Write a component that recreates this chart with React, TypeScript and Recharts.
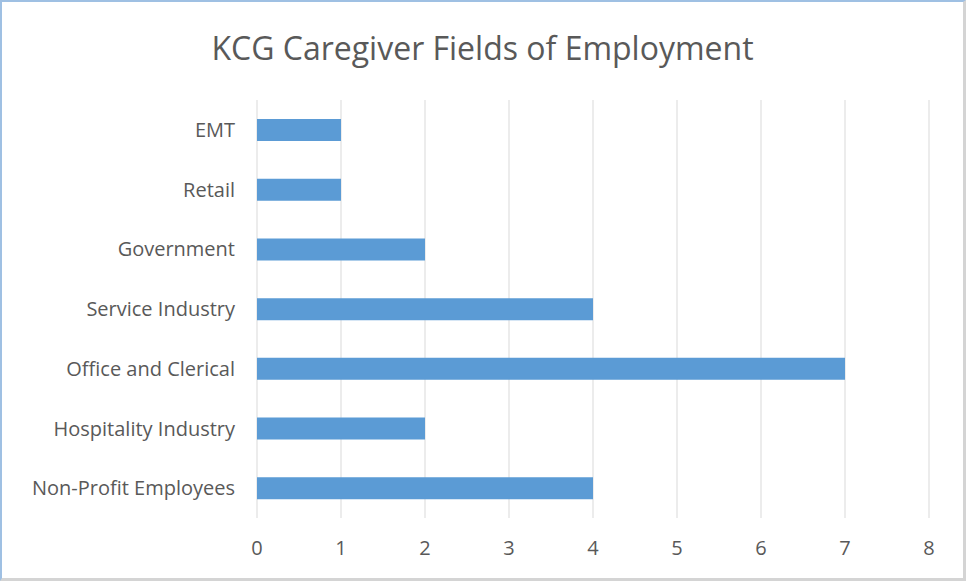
import { BarChart, Bar, XAxis, YAxis, CartesianGrid } from 'recharts';

const categories = [
  'EMT',
  'Retail',
  'Government',
  'Service Industry',
  'Office and Clerical',
  'Hospitality Industry',
  'Non-Profit Employees'
];
const employees = [1, 1, 2, 4, 7, 2, 4];
const xTicks = [0, 1, 2, 3, 4, 5, 6, 7, 8];

const data = categories.map((name, i) => ({ name, value: employees[i] }));

const FONT = '"Open Sans", "Noto Sans", sans-serif';
const TEXT_COLOR = '#595959';

export default function App() {
  return (
    <div
      style={{
        position: 'fixed',
        top: 0,
        left: 0,
        width: 966,
        height: 581,
        boxSizing: 'border-box',
        background: '#fff',
        borderTop: '2px solid #9fc0e3',
        borderLeft: '2px solid #9fc0e3',
        borderRight: '3px solid #d4d4d4',
        borderBottom: '3px solid #d4d4d4',
        fontFamily: FONT
      }}
    >
      {/* Title */}
      <div
        style={{
          position: 'absolute',
          top: 26,
          left: 0,
          width: 961,
          textAlign: 'center',
          fontSize: 32,
          color: TEXT_COLOR,
          lineHeight: '40px'
        }}
      >
        KCG Caregiver Fields of Employment
      </div>

      <div style={{ position: 'absolute', top: -2, left: -2 }}>
        <BarChart
          width={966}
          height={581}
          data={data}
          layout="vertical"
          margin={{ top: 100, right: 37, bottom: 23, left: 17 }}
          barCategoryGap={0}
        >
          <CartesianGrid horizontal={false} stroke="#d9d9d9" />
          <XAxis
            type="number"
            domain={[0, 8]}
            ticks={xTicks}
            axisLine={false}
            tickLine={false}
            tickSize={0}
            tickMargin={23}
            height={40}
            interval={0}
            tick={{ fontSize: 20, fill: TEXT_COLOR, fontFamily: FONT }}
          />
          <YAxis
            type="category"
            dataKey="name"
            width={240}
            axisLine={false}
            tickLine={false}
            tickSize={0}
            tickMargin={22}
            interval={0}
            tick={{ fontSize: 20, fill: TEXT_COLOR, fontFamily: FONT }}
          />
          <Bar dataKey="value" fill="#5b9bd5" barSize={22} isAnimationActive={false} />
        </BarChart>
      </div>
    </div>
  );
}
